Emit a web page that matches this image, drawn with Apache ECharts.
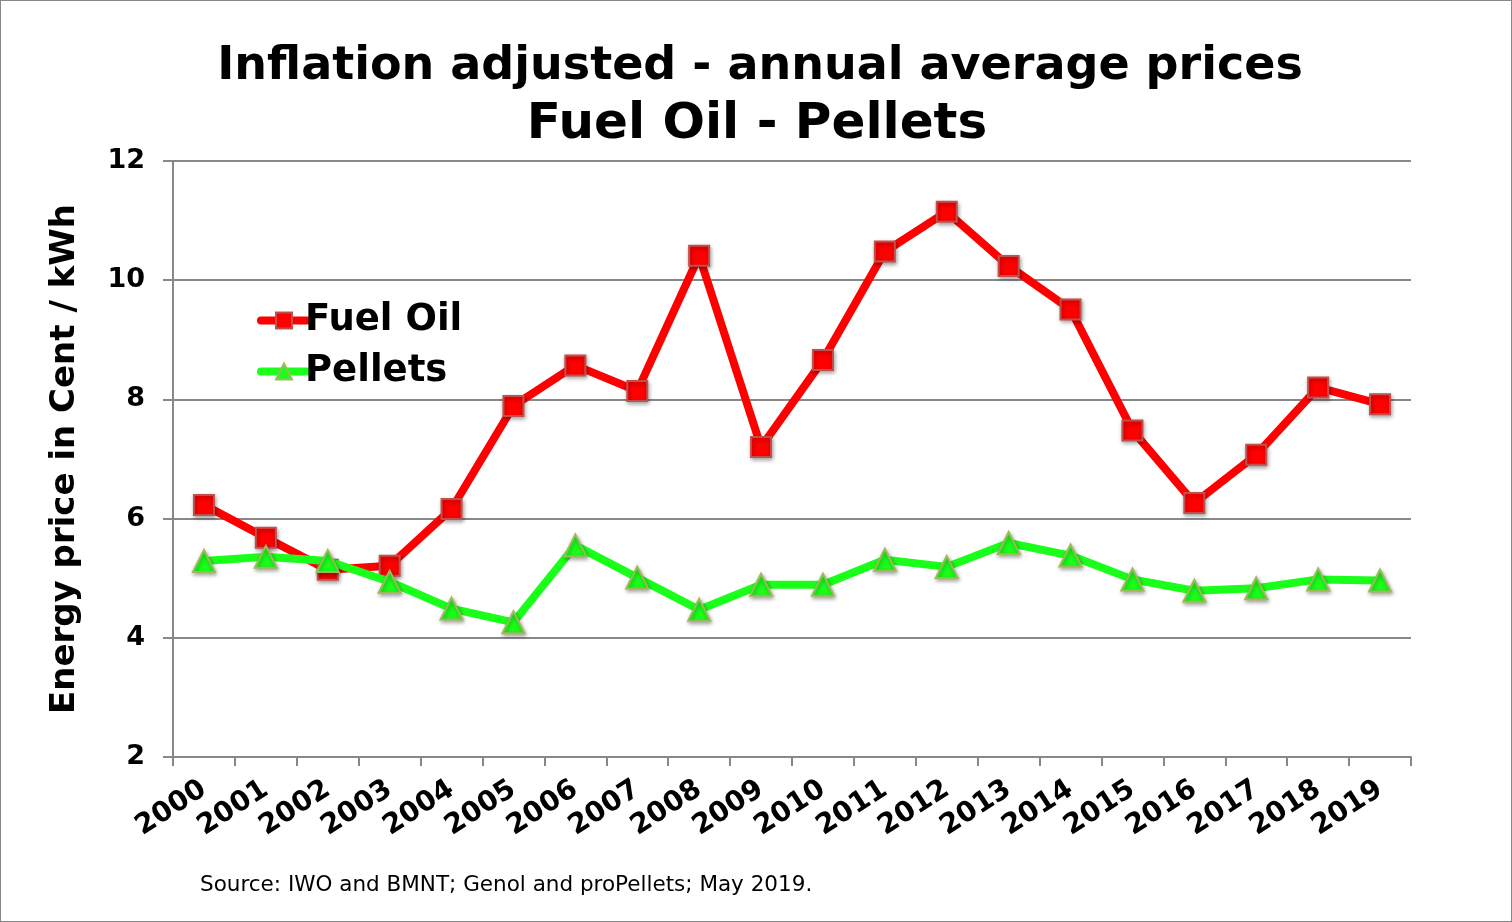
<!DOCTYPE html>
<html><head><meta charset="utf-8">
<script src="https://cdn.jsdelivr.net/npm/echarts@6/dist/echarts.min.js"></script>
<style>html,body{margin:0;padding:0;background:#fff}#c{width:1512px;height:922px;box-sizing:border-box;border:1px solid #888}</style>
</head><body><div id="c"></div>
<script>
const years = ['2000','2001','2002','2003','2004','2005','2006','2007','2008','2009','2010','2011','2012','2013','2014','2015','2016','2017','2018','2019'];
const fuelOil = [6.23,5.68,5.14,5.21,6.16,7.89,8.57,8.14,10.41,7.20,8.66,10.48,11.15,10.24,9.51,7.48,6.26,7.07,8.20,7.92];
const pellets = [5.29,5.36,5.29,4.94,4.49,4.26,5.55,5.01,4.47,4.89,4.89,5.31,5.19,5.59,5.38,4.98,4.79,4.83,4.98,4.96];
const yTicks = {min:2, max:12, interval:2};
const F = 'DejaVu Sans, Verdana, sans-serif';
const chart = echarts.init(document.getElementById('c'));
const shadow = {shadowBlur:4, shadowColor:'rgba(0,0,0,0.35)', shadowOffsetX:1, shadowOffsetY:2};
chart.setOption({
  animation:false,
  title:[
    {text:'Inflation adjusted - annual average prices', left:754, top:38, textAlign:'center', textStyle:{fontFamily:F, fontWeight:'bold', fontSize:46, color:'#000'}},
    {text:'Fuel Oil - Pellets', left:751, top:94, textAlign:'center', textStyle:{fontFamily:F, fontWeight:'bold', fontSize:50, color:'#000'}},
    {text:'Source: IWO and BMNT; Genol and proPellets; May 2019.', left:194, top:868, textStyle:{fontFamily:F, fontWeight:'normal', fontSize:21.5, color:'#000'}}
  ],
  legend:{
    orient:'vertical', left:251, top:296, itemGap:14, itemWidth:46, itemHeight:20,
    lineStyle:{width:8, cap:'round'},
    textStyle:{fontFamily:F, fontWeight:'bold', fontSize:37, color:'#000', padding:[0,0,0,-7]},
    data:['Fuel Oil','Pellets']
  },
  grid:{left:172, right:100, top:160, bottom:164, containLabel:false},
  xAxis:{
    type:'category', data:years, boundaryGap:true,
    axisLine:{lineStyle:{color:'#888', width:2}},
    axisTick:{show:true, length:9, lineStyle:{color:'#888', width:2}, alignWithLabel:false},
    axisLabel:{rotate:33, fontFamily:F, fontWeight:'bold', fontSize:28, color:'#000', margin:30, interval:0}
  },
  yAxis:{
    type:'value', min:yTicks.min, max:yTicks.max, interval:yTicks.interval,
    name:'Energy price in Cent / kWh', nameLocation:'middle', nameGap:91,
    nameTextStyle:{fontFamily:F, fontWeight:'bold', fontSize:34, color:'#000'},
    axisLine:{show:true, lineStyle:{color:'#888', width:2}},
    axisTick:{show:true, length:10, lineStyle:{color:'#888', width:2}},
    splitLine:{lineStyle:{color:'#888', width:2}},
    axisLabel:{fontFamily:F, fontWeight:'bold', fontSize:27, color:'#000', margin:28}
  },
  series:[
    {name:'Fuel Oil', type:'line', data:fuelOil, symbol:'rect', symbolSize:20,
     lineStyle:{color:'#ff0000', width:8}, itemStyle:Object.assign({color:'#ff0000', borderColor:'#c0504d', borderWidth:2}, shadow), z:3},
    {name:'Pellets', type:'line', data:pellets, symbol:'triangle', symbolSize:22,
     lineStyle:{color:'#1aff1a', width:8}, itemStyle:Object.assign({color:'#1aff1a', borderColor:'#9bbb59', borderWidth:2}, shadow), z:4}
  ]
});
</script></body></html>
